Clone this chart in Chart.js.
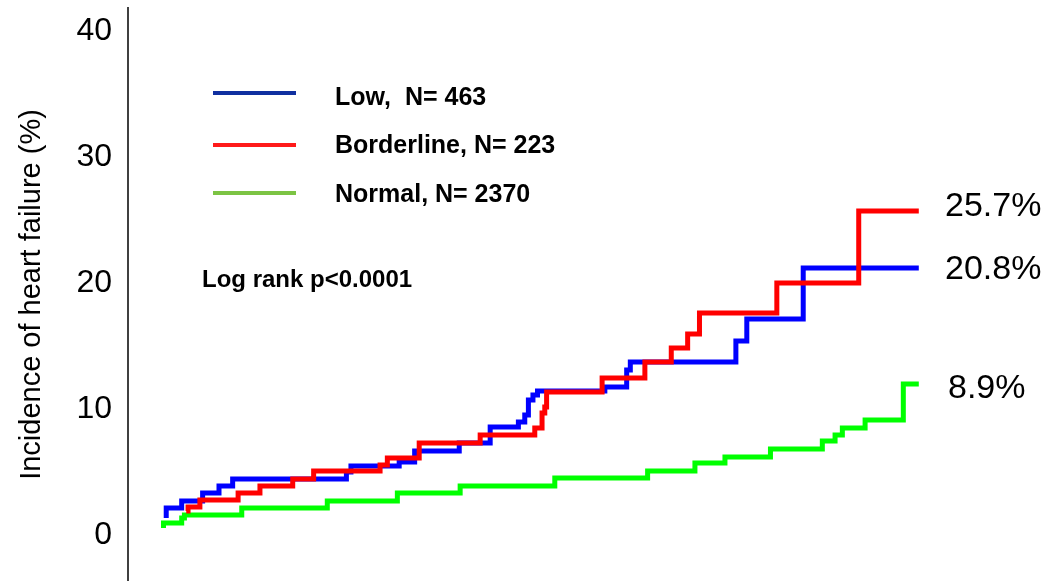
<!DOCTYPE html>
<html lang="en">
<head>
    <meta charset="UTF-8">
    <title>Incidence of heart failure</title>
    <script src="https://cdn.jsdelivr.net/npm/chart.js"></script>
    <style>
        body { margin: 0; background: #fff; }
        #wrap { width: 1064px; height: 581px; }
    </style>
</head>
<body>
    <div id="wrap"><canvas id="hfChart"></canvas></div>
    <script>
        // follow-up time (arbitrary units, axis not labelled in the source) and cumulative incidence (%)
        const lowX = [4.2, 4.2, 5.9, 8.2, 10.0, 11.5, 24.0, 24.5, 29.8, 31.5, 36.4, 39.8, 42.9, 43.6, 44.0, 44.5, 45.0, 52.4, 54.8, 55.2, 66.8, 68.0, 74.2, 86.9];
        const lowY = [1.35, 2.14, 2.70, 3.33, 3.89, 4.44, 5.00, 5.48, 5.79, 6.67, 7.30, 8.57, 8.97, 9.52, 10.71, 11.11, 11.43, 11.75, 13.10, 13.73, 15.40, 17.14, 21.19, 21.19];

        const borderX = [6.4, 6.6, 7.9, 12.1, 14.5, 18.1, 20.4, 27.7, 28.5, 32.0, 38.7, 44.7, 45.5, 45.8, 46.0, 52.1, 56.8, 59.7, 61.5, 62.8, 71.3, 80.3, 86.9];
        const borderY = [1.90, 2.22, 2.78, 3.33, 3.89, 4.44, 5.08, 5.56, 6.11, 7.30, 7.94, 8.49, 9.68, 10.16, 11.35, 12.46, 13.73, 14.84, 15.95, 17.62, 20.00, 25.71, 25.71];

        const normalX = [3.9, 3.9, 5.9, 6.2, 12.5, 21.9, 29.6, 36.5, 46.9, 57.1, 62.3, 65.6, 70.6, 76.3, 77.7, 78.5, 81.0, 85.2, 86.9];
        const normalY = [0.56, 0.95, 1.35, 1.59, 2.14, 2.70, 3.33, 3.89, 4.52, 5.08, 5.71, 6.19, 6.83, 7.46, 7.94, 8.49, 9.13, 11.98, 11.98];

        const yTicks = [0, 10, 20, 30, 40];
        const seriesNames = ['Low,  N= 463', 'Borderline, N= 223', 'Normal, N= 2370'];
        const endLabels = ['20.8%', '25.7%', '8.9%'];

        const toPoints = (xs, ys) => xs.map((x, i) => ({ x: x, y: ys[i] }));

        // legend, p-value and end-of-curve labels drawn straight on the canvas
        const notes = {
            id: 'notes',
            afterDraw(chart) {
                const c = chart.ctx;
                c.save();
                const legendCols = ['#1030a0', '#ff1a1a', '#7cc444'];
                const legendY = [93, 145, 193];
                const textY = [98, 146, 195];
                c.lineWidth = 4;
                for (let i = 0; i < 3; i++) {
                    c.strokeStyle = legendCols[i];
                    c.beginPath();
                    c.moveTo(213, legendY[i]);
                    c.lineTo(296, legendY[i]);
                    c.stroke();
                }
                c.fillStyle = '#000';
                c.textBaseline = 'middle';
                c.textAlign = 'left';
                c.font = 'bold 25px "Liberation Sans", Arial, sans-serif';
                for (let i = 0; i < 3; i++) {
                    c.fillText(seriesNames[i], 335, textY[i]);
                }
                c.font = 'bold 24px "Liberation Sans", Arial, sans-serif';
                c.fillText('Log rank p<0.0001', 202, 280);

                c.font = '34px "Liberation Sans", Arial, sans-serif';
                c.fillText(endLabels[1], 945, 207);
                c.fillText(endLabels[0], 945, 270);
                c.fillText(endLabels[2], 948, 389);
                c.restore();
            }
        };

        const ctx = document.getElementById('hfChart').getContext('2d');
        const hfChart = new Chart(ctx, {
            type: 'line',
            data: {
                datasets: [
                    { label: seriesNames[1], data: toPoints(borderX, borderY), borderColor: '#ff0000' },
                    { label: seriesNames[0], data: toPoints(lowX, lowY), borderColor: '#0000ff' },
                    { label: seriesNames[2], data: toPoints(normalX, normalY), borderColor: '#00ff00' }
                ]
            },
            options: {
                responsive: true,
                maintainAspectRatio: false,
                animation: false,
                layout: { padding: { top: 8, right: 26, bottom: 0, left: 0 } },
                elements: {
                    line: { borderWidth: 5, stepped: 'before', tension: 0, fill: false },
                    point: { radius: 0 }
                },
                plugins: {
                    legend: { display: false },
                    tooltip: { enabled: false }
                },
                scales: {
                    x: { type: 'linear', min: 0, max: 100, display: false },
                    y: {
                        min: -3.65,
                        max: 41.83,
                        afterBuildTicks: (scale) => { scale.ticks = yTicks.map(v => ({ value: v })); },
                        afterFit: (scale) => {
                            scale.width = 128;
                            scale.paddingTop = 0;
                            scale.paddingBottom = 0;
                        },
                        grid: { display: false, drawTicks: false },
                        border: { display: true, color: '#404040', width: 2 },
                        ticks: {
                            color: '#000',
                            padding: 16,
                            font: { family: '"Liberation Sans", Arial, sans-serif', size: 32 }
                        },
                        title: {
                            display: true,
                            text: 'Incidence of heart failure (%)',
                            color: '#000',
                            padding: { top: 15, bottom: 0 },
                            font: { family: '"Liberation Sans", Arial, sans-serif', size: 29 }
                        }
                    }
                }
            },
            plugins: [notes]
        });
    </script>
</body>
</html>
